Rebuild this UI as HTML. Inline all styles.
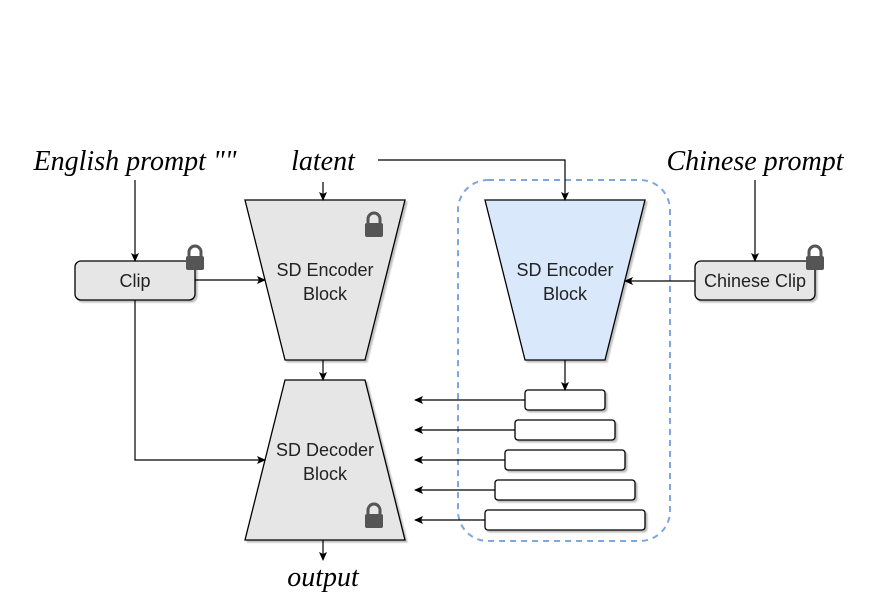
<!DOCTYPE html>
<html><head><style>body{margin:0;background:#fff}</style></head><body>
<svg width="890" height="600" xmlns="http://www.w3.org/2000/svg" font-family="Liberation Sans, sans-serif">
<defs>
<marker id="a" markerWidth="10" markerHeight="10" refX="8" refY="5" orient="auto" markerUnits="userSpaceOnUse"><path d="M0,1 L9,5 L0,9 L2,5 Z" fill="#000"/></marker>
<filter id="s"><feDropShadow dx="2" dy="2" stdDeviation="0.8" flood-color="#000" flood-opacity="0.25"/></filter>
<g id="lock"><path d="M-6,-3 V-7 A6,6 0 0 1 6,-7 V-3" fill="none" stroke="#555" stroke-width="3"/><rect x="-9" y="-3" width="18" height="14" rx="2" fill="#555"/></g>
</defs>
<rect x="458" y="180" width="212" height="361" rx="30" fill="none" stroke="#7ea6e0" stroke-width="2" stroke-dasharray="6,5"/>
<g font-family="Liberation Serif, serif" font-style="italic" font-size="28" text-anchor="middle">
<text x="135" y="170">English prompt ""</text>
<text x="323" y="170">latent</text>
<text x="755" y="170">Chinese prompt</text>
<text x="323" y="586">output</text>
</g>
<g filter="url(#s)" stroke="#000" stroke-width="1.3">
<polygon points="245,200 405,200 365,360 285,360" fill="#e6e6e6"/>
<polygon points="285,380 365,380 405,540 245,540" fill="#e6e6e6"/>
<polygon points="485,200 645,200 605,360 525,360" fill="#dae8fc"/>
<rect x="75" y="261" width="120" height="39" rx="6" fill="#e6e6e6"/>
<rect x="695" y="261" width="120" height="39" rx="6" fill="#e6e6e6"/>
<rect x="525" y="390" width="80" height="20" rx="3" fill="#fff"/>
<rect x="515" y="420" width="100" height="20" rx="3" fill="#fff"/>
<rect x="505" y="450" width="120" height="20" rx="3" fill="#fff"/>
<rect x="495" y="480" width="140" height="20" rx="3" fill="#fff"/>
<rect x="485" y="510" width="160" height="20" rx="3" fill="#fff"/>
</g>
<g font-size="18" text-anchor="middle" fill="#222">
<text x="325" y="276">SD Encoder</text><text x="325" y="300">Block</text>
<text x="325" y="456">SD Decoder</text><text x="325" y="480">Block</text>
<text x="565" y="276">SD Encoder</text><text x="565" y="300">Block</text>
<text x="135" y="287">Clip</text>
<text x="755" y="287">Chinese Clip</text>
</g>
<g stroke="#000" stroke-width="1.2" fill="none" marker-end="url(#a)">
<path d="M378,160 H565 V200"/>
<path d="M135,180 V261"/>
<path d="M755,180 V261"/>
<path d="M323,182 V200"/>
<path d="M195,280 H265"/>
<path d="M135,300 V460 H265"/>
<path d="M323,360 V380"/>
<path d="M323,540 V560"/>
<path d="M565,360 V390"/>
<path d="M695,281 H625"/>
<path d="M525,400 H415"/>
<path d="M515,430 H415"/>
<path d="M505,460 H415"/>
<path d="M495,490 H415"/>
<path d="M485,520 H415"/>
</g>
<use href="#lock" x="195" y="259"/>
<use href="#lock" x="374" y="226"/>
<use href="#lock" x="374" y="517"/>
<use href="#lock" x="815" y="259"/>
</svg>
</body></html>
